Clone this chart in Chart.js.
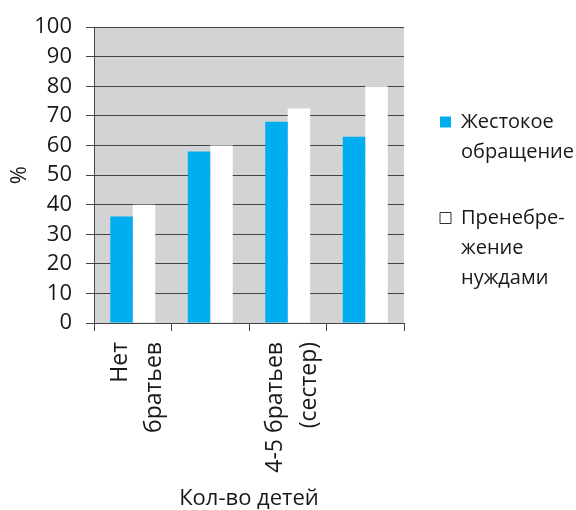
<!DOCTYPE html>
<html lang="ru">
<head>
<meta charset="UTF-8" />
<title>Кол-во детей</title>
<script src="https://cdn.jsdelivr.net/npm/chart.js"></script>
<style>
  body { margin: 0; background: #fff; }
  #wrap { width: 576px; height: 510px; }
</style>
</head>
<body>
<div id="wrap"><canvas id="chart"></canvas></div>
<script>
  // data
  const categories = [["Нет", "братьев"], "", ["4-5 братьев", "(сестер)"], ""];
  const abuse = [36, 58, 68, 63];
  const neglect = [40, 60, 72.5, 80];
  const seriesNames = [["Жестокое", "обращение"], ["Пренебре-", "жение", "нуждами"]];
  const yMin = 0, yMax = 100, yStep = 10;

  const FONT = "'Open Sans', 'Noto Sans', sans-serif";
  const TEXT = "#1a1718";
  const LINE = "#444";
  const BLUE = "#00aeef";

  // gray plot background
  const plotBg = {
    id: "plotBg",
    beforeDraw(chart) {
      const { ctx, chartArea: a } = chart;
      ctx.save();
      ctx.fillStyle = "#d1d3d4";
      ctx.fillRect(a.left, a.top, a.right - a.left, a.bottom - a.top);
      ctx.restore();
    }
  };

  new Chart(document.getElementById("chart"), {
    type: "bar",
    data: {
      labels: categories,
      datasets: [
        { label: "Жестокое обращение", data: abuse, backgroundColor: BLUE },
        { label: "Пренебрежение нуждами", data: neglect, backgroundColor: "#ffffff" }
      ]
    },
    options: {
      responsive: true,
      maintainAspectRatio: false,
      animation: false,
      categoryPercentage: 0.58,
      barPercentage: 1,
      layout: { padding: { top: 22 } },
      plugins: {
        tooltip: { enabled: false },
        legend: {
          position: "right",
          align: "start",
          maxWidth: 172,
          title: { display: true, text: "", font: { size: 12, lineHeight: 1 }, padding: { top: 42, bottom: 0 } },
          labels: {
            boxWidth: 11,
            boxHeight: 11,
            padding: 36,
            color: TEXT,
            font: { family: FONT, size: 20, lineHeight: 1.5 },
            generateLabels: () => [
              { text: seriesNames[0], fillStyle: BLUE, strokeStyle: BLUE, lineWidth: 0, fontColor: TEXT, datasetIndex: 0 },
              { text: seriesNames[1], fillStyle: "#ffffff", strokeStyle: "#333", lineWidth: 1, fontColor: TEXT, datasetIndex: 1 }
            ]
          }
        }
      },
      scales: {
        x: {
          afterFit: s => { s.height = 187; },
          grid: { offset: true, drawOnChartArea: false, tickLength: 8, color: LINE },
          border: { color: LINE },
          ticks: {
            minRotation: 90, maxRotation: 90, autoSkip: false,
            padding: 11, labelOffset: -12, color: TEXT,
            font: { family: FONT, size: 23, lineHeight: 1.48 }
          },
          title: {
            display: true, text: "Кол-во детей", color: TEXT,
            font: { family: FONT, size: 22, lineHeight: 1 }, padding: { top: 0, bottom: 0 }
          }
        },
        y: {
          min: yMin, max: yMax,
          afterFit: s => { s.width = 94; },
          grid: { color: LINE, tickLength: 8 },
          border: { color: LINE },
          ticks: { stepSize: yStep, padding: 14, color: TEXT, font: { family: FONT, size: 22 } },
          title: {
            display: true, text: "%", color: TEXT,
            font: { family: FONT, size: 22, lineHeight: 1 }, padding: { top: 9, bottom: 0 }
          }
        }
      }
    },
    plugins: [plotBg]
  });
</script>
</body>
</html>
